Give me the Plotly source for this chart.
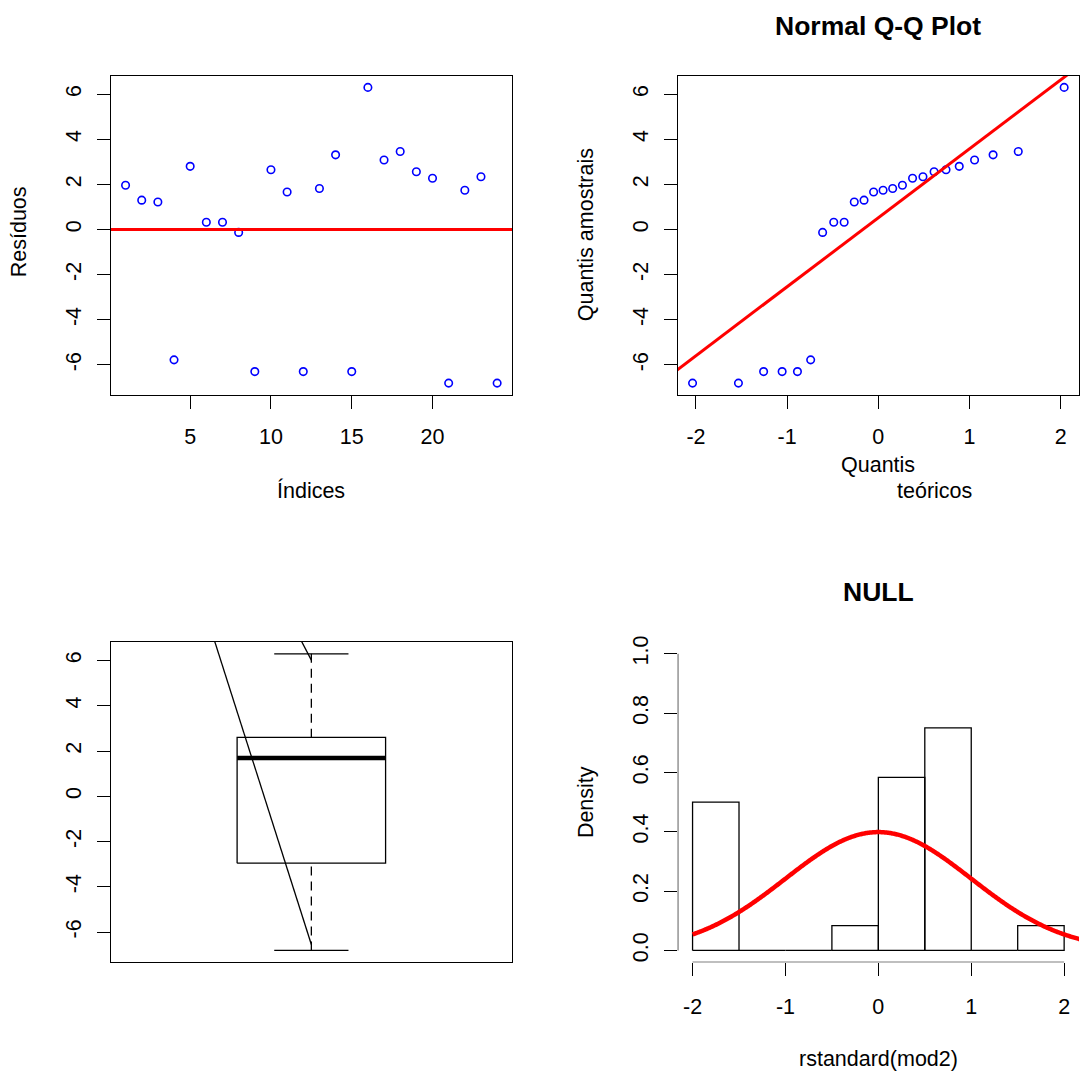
import numpy as np
import plotly.graph_objects as go

# ---------------- data ----------------
index = list(range(1, 25))
residuals = [1.96, 1.30, 1.22, -5.78, 2.80, 0.32, 0.32, -0.13, -6.30, 2.65, 1.66, -6.30,
             1.82, 3.31, -6.30, 6.30, 3.08, 3.46, 2.56, 2.27, -6.81, 1.74, 2.34, -6.81]
theoretical_q = [-2.037, -1.534, -1.258, -1.055, -0.887, -0.742, -0.611, -0.489, -0.375, -0.264,
                 -0.157, -0.052, 0.052, 0.157, 0.264, 0.375, 0.489, 0.611, 0.742, 0.887,
                 1.055, 1.258, 1.534, 2.037]
norm_quartile = 0.6745

hist_edges = [-2.0, -1.5, -1.0, -0.5, 0.0, 0.5, 1.0, 1.5, 2.0]
hist_counts = [6, 0, 0, 1, 7, 9, 0, 1]
dens_mean, dens_sd = 0.0, 1.0

# stray lines drawn over the boxplot panel
overlay_a_x = [0.70, 1.0]
overlay_a_y = [10.14, -6.55]
overlay_b_x = [0.90, 1.0]
overlay_b_y = [9.42, 6.02]

resid_ticks = [-6, -4, -2, 0, 2, 4, 6]
resid_tick_text = ["-6", "-4", "-2", "0", "2", "4", "6"]
index_ticks = [5, 10, 15, 20]
qq_ticks = [-2, -1, 0, 1, 2]
qq_tick_text = ["-2", "-1", "0", "1", "2"]
dens_ticks = [0.0, 0.2, 0.4, 0.6, 0.8, 1.0]
dens_tick_text = ["0.0", "0.2", "0.4", "0.6", "0.8", "1.0"]

# ---------------- helpers ----------------
W, H = 1084, 1076
FONT = "Liberation Sans, Arial, sans-serif"
FS = 21.5
TFS = 26.5


def rng(lo, hi):
    p = 0.04 * (hi - lo)
    return [lo - p, hi + p]


def py(y):
    # vertical calibration of the page
    return (y - 4.3) / 0.9964


def px(x, y):
    return x / W, 1 - py(y) / H


sample_q = sorted(residuals)
r_lo, r_hi = min(residuals), max(residuals)

# qq line through quartiles
q1, q3 = np.quantile(residuals, [0.25, 0.75])
slope = (q3 - q1) / (2 * norm_quartile)
intercept = (q1 + q3) / 2

# Tukey five-number summary
s = np.array(sample_q)
n = len(s)
med = float(np.median(s))
lower_hinge = float(np.median(s[: n // 2]))
upper_hinge = float(np.median(s[(n + 1) // 2:]))
iqr = upper_hinge - lower_hinge
w_lo = float(s[s >= lower_hinge - 1.5 * iqr].min())
w_hi = float(s[s <= upper_hinge + 1.5 * iqr].max())
box_c, box_half, cap_half = 1.0, 0.185, 0.0925

# histogram densities
bw = hist_edges[1] - hist_edges[0]
dens = [c / (sum(hist_counts) * bw) for c in hist_counts]
hx, hy = [], []
for i, d in enumerate(dens):
    l, r = hist_edges[i], hist_edges[i + 1]
    hx += [l, l, r, r, l, None]
    hy += [0, d, d, 0, 0, None]
cx = np.linspace(-2.0, 3.0, 501)
cy = np.exp(-0.5 * ((cx - dens_mean) / dens_sd) ** 2) / (dens_sd * np.sqrt(2 * np.pi))

fig = go.Figure()
BLUE, RED, BLACK = "#0000FF", "#FF0000", "#000000"
MK = dict(symbol="circle-open", size=7.5, color=BLUE, line=dict(width=1.6, color=BLUE))

# panel 1: residuals vs index
fig.add_trace(go.Scatter(x=index, y=residuals, mode="markers", xaxis="x", yaxis="y", marker=MK))
x1r = rng(min(index), max(index))
fig.add_trace(go.Scatter(x=[x1r[0] - 5, x1r[1] + 5], y=[0, 0], mode="lines", xaxis="x", yaxis="y",
                         line=dict(color=RED, width=3)))

# panel 2: QQ
fig.add_trace(go.Scatter(x=theoretical_q, y=sample_q, mode="markers", xaxis="x2", yaxis="y2", marker=MK))
lx = np.array([-4.0, 4.0])
fig.add_trace(go.Scatter(x=lx, y=intercept + slope * lx, mode="lines", xaxis="x2", yaxis="y2",
                         line=dict(color=RED, width=3)))

# panel 3: boxplot
bl, br = box_c - box_half, box_c + box_half
fig.add_trace(go.Scatter(x=[bl, bl, br, br, bl], y=[lower_hinge, upper_hinge, upper_hinge, lower_hinge, lower_hinge],
                         mode="lines", xaxis="x3", yaxis="y3", line=dict(color=BLACK, width=1.3)))
fig.add_trace(go.Scatter(x=[bl, br], y=[med, med], mode="lines", xaxis="x3", yaxis="y3",
                         line=dict(color=BLACK, width=4.5)))
fig.add_trace(go.Scatter(x=[box_c, box_c, None, box_c, box_c], y=[w_hi, upper_hinge, None, w_lo, lower_hinge],
                         mode="lines", xaxis="x3", yaxis="y3", line=dict(color=BLACK, width=1.3, dash="9px,6px")))
fig.add_trace(go.Scatter(x=[box_c - cap_half, box_c + cap_half, None, box_c - cap_half, box_c + cap_half],
                         y=[w_hi, w_hi, None, w_lo, w_lo], mode="lines", xaxis="x3", yaxis="y3",
                         line=dict(color=BLACK, width=1.3)))
fig.add_trace(go.Scatter(x=overlay_a_x, y=overlay_a_y, mode="lines", xaxis="x3", yaxis="y3",
                         line=dict(color=BLACK, width=1.3)))
fig.add_trace(go.Scatter(x=overlay_b_x, y=overlay_b_y, mode="lines", xaxis="x3", yaxis="y3",
                         line=dict(color=BLACK, width=1.3)))

# panel 4: histogram
fig.add_trace(go.Scatter(x=hx, y=hy, mode="lines", xaxis="x4", yaxis="y4",
                         line=dict(color=BLACK, width=1.3)))
fig.add_trace(go.Scatter(x=cx, y=cy, mode="lines", xaxis="x4", yaxis="y4",
                         line=dict(color=RED, width=4.5, simplify=False)))

# ---------------- axes ----------------
dxL = [110.7 / W, 512 / W]
dxR = [677.7 / W, 1079 / W]
dyT = [1 - py(394) / H, 1 - py(74) / H]
dyB = [1 - py(962.5) / H, 1 - py(641.5) / H]

tickfont = dict(family=FONT, size=FS, color=BLACK)
base = dict(showgrid=False, zeroline=False, ticks="outside", ticklen=13, tickwidth=1.2,
            tickcolor=BLACK, tickfont=tickfont, linecolor=BLACK, linewidth=1.3)
boxed = dict(showline=True, mirror=True)
XS_TOP, XS_BOT, YS = 9, 12, 7

fig.update_layout(
    xaxis=dict(domain=dxL, anchor="y", range=x1r, tickmode="array", tickvals=index_ticks,
               ticklabelstandoff=XS_TOP, **base, **boxed),
    yaxis=dict(domain=dyT, anchor="x", range=rng(r_lo, r_hi), tickmode="array", tickvals=resid_ticks,
               ticktext=resid_tick_text, tickangle=-90, ticklabelstandoff=YS, **base, **boxed),
    xaxis2=dict(domain=dxR, anchor="y2", range=rng(min(theoretical_q), max(theoretical_q)), tickmode="array",
                tickvals=qq_ticks, ticktext=qq_tick_text, ticklabelstandoff=XS_TOP, **base, **boxed),
    yaxis2=dict(domain=dyT, anchor="x2", range=rng(r_lo, r_hi), tickmode="array", tickvals=resid_ticks,
                ticktext=resid_tick_text, tickangle=-90, ticklabelstandoff=YS, **base, **boxed),
    xaxis3=dict(domain=dxL, anchor="y3", range=[0.5, 1.5], showticklabels=False,
                **{**base, "ticks": ""}, **boxed),
    yaxis3=dict(domain=dyB, anchor="x3", range=rng(r_lo, r_hi), tickmode="array", tickvals=resid_ticks,
                ticktext=resid_tick_text, tickangle=-90, ticklabelstandoff=YS, **base, **boxed),
    xaxis4=dict(domain=dxR, anchor="y4", range=rng(hist_edges[0], hist_edges[-1]), tickmode="array",
                tickvals=qq_ticks, ticktext=qq_tick_text, ticklabelstandoff=XS_BOT, showline=False, **base),
    yaxis4=dict(domain=dyB, anchor="x4", range=rng(0, 1), tickmode="array", tickvals=dens_ticks,
                ticktext=dens_tick_text, tickangle=-90, ticklabelstandoff=YS, showline=False, **base),
    width=W, height=H, margin=dict(l=0, r=0, t=0, b=0),
    paper_bgcolor="white", plot_bgcolor="white", showlegend=False,
)

# detached R-style axis lines for histogram
x4r = rng(hist_edges[0], hist_edges[-1])
y4r = rng(0, 1)
fig.add_shape(type="line", xref="x4", yref="y4", x0=min(qq_ticks), x1=max(qq_ticks), y0=y4r[0], y1=y4r[0],
              line=dict(color=BLACK, width=1.3))
fig.add_shape(type="line", xref="x4", yref="y4", x0=x4r[0], x1=x4r[0], y0=min(dens_ticks), y1=max(dens_ticks),
              line=dict(color=BLACK, width=1.3))

# ---------------- text ----------------
def ann(text, x, y, size=FS, bold=False, angle=0):
    ax, ay = px(x, y)
    fig.add_annotation(text=f"<b>{text}</b>" if bold else text, x=ax, y=ay, xref="paper", yref="paper",
                       showarrow=False, xanchor="center", yanchor="middle", textangle=angle,
                       font=dict(family=FONT, size=size, color=BLACK))

ann("Resíduos", 19, 231, angle=-90)
ann("Índices", 311, 490)
ann("Normal Q-Q Plot", 878, 24, size=TFS, bold=True)
ann("Quantis amostrais", 586, 234, angle=-90)
ann("Quantis", 878, 464)
ann("teóricos", 934, 490)
ann("NULL", 878, 591, size=TFS, bold=True)
ann("Density", 586, 802, angle=-90)
ann("rstandard(mod2)", 878, 1059)

fig.write_html("out.html")
